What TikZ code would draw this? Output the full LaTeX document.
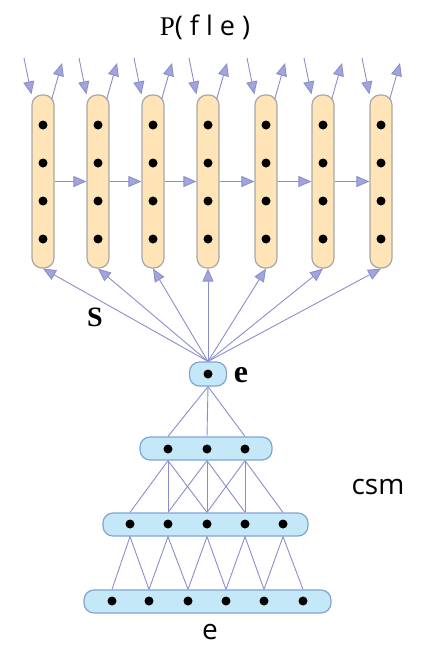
\documentclass[tikz,border=0pt]{standalone}
\usepackage{fontspec}
\setmainfont{Open Sans}
\newfontfamily\serifs{Liberation Serif}
\usetikzlibrary{arrows.meta}
\definecolor{wirecol}{RGB}{140,141,203}
\definecolor{tipcol}{RGB}{160,165,221}
\definecolor{peach}{RGB}{254,228,182}
\definecolor{peachline}{RGB}{168,168,168}
\definecolor{sky}{RGB}{197,232,249}
\definecolor{skyline}{RGB}{128,165,212}
\tikzset{
  wire/.style={draw=wirecol, line width=0.9pt},
  arr/.style={wire, -{Triangle[length=13pt,width=11pt,fill=tipcol]}},
  rnncol/.style={draw=peachline, fill=peach, line width=1.2pt, rounded corners=10pt, minimum width=22pt, minimum height=173pt, inner sep=0pt},
  layer/.style={draw=skyline, fill=sky, line width=1.2pt, rounded corners=10pt, minimum height=23pt, inner sep=0pt},
  dot/.style={circle, fill=black, inner sep=0pt, minimum size=9pt},
}
\newcommand\gap{\hspace{7pt}}
\begin{document}
\begin{tikzpicture}[x=1pt,y=-1pt]
    \useasboundingbox (0,0) rectangle (426,645);
    \node[font=\fontsize{27}{27}\selectfont] (title) at (205,27) {{\serifs P}(\gap f\gap l\gap e\gap)};

    % recurrent columns
    \foreach \x [count=\i] in {43,98,153,208,266,323,381} {
        \node[rnncol] (col\i) at (\x,181.5) {};
        \foreach \y [count=\j] in {125,163,201,239} \node[dot] (c\i\j) at (\x,\y) {};
        \coordinate (in\i) at (\x-19,58); \coordinate (out\i) at (\x+19,63);
        \draw[arr] (in\i) to (col\i.north west); \draw[arr] ([xshift=-3pt,yshift=-5pt]col\i.north east) to (out\i);
    }
    \foreach \i [evaluate=\i as \k using int(\i+1)] in {1,...,6} \draw[arr] (col\i.east) to (col\k.west);

    % sentence vector
    \node[layer, minimum width=37pt, minimum height=24pt] (enode) at (208,374) {}; \node[dot] (edot) at (enode) {};
    \node[font=\serifs\bfseries\fontsize{32}{32}\selectfont] (elab) at (241,375) {e};
    \node[font=\serifs\bfseries\fontsize{28}{28}\selectfont] (slab) at (95,317) {S};
    \foreach \i in {1,...,7} \draw[arr] (enode.north) to (col\i.south);

    % convolutional sentence model
    \node[layer, minimum width=132pt] (lay1) at (206,448.5) {};
    \node[layer, minimum width=205pt] (lay2) at (205.5,524.5) {};
    \node[layer, minimum width=247pt] (lay3) at (207.5,601.5) {};
    \foreach \x [count=\j] in {168,207,245} \node[dot] (a\j) at (\x,449) {};
    \foreach \x [count=\j] in {130,168,207,245,283} \node[dot] (b\j) at (\x,524) {};
    \foreach \x [count=\j] in {112,149,188,226,264,303} \node[dot] (d\j) at (\x,601) {};

    \foreach \j in {1,2,3} \draw[wire] (enode.south) to (a\j |- lay1.north);
    \foreach \j in {1,2,3} \foreach \k in {0,1,2} {
        \pgfmathtruncatemacro\m{\j+\k}
        \draw[wire] (a\j |- lay1.south) to (b\m |- lay2.north);
    }
    \foreach \j in {1,...,5} \foreach \k in {0,1} {
        \pgfmathtruncatemacro\m{\j+\k}
        \draw[wire] (b\j |- lay2.south) to (d\m |- lay3.north);
    }
    \node[font=\fontsize{28}{28}\selectfont] (csm) at (378,487) {csm};
    \node[font=\fontsize{28}{28}\selectfont] (sent) at (210,632) {e};
\end{tikzpicture}
\end{document}
